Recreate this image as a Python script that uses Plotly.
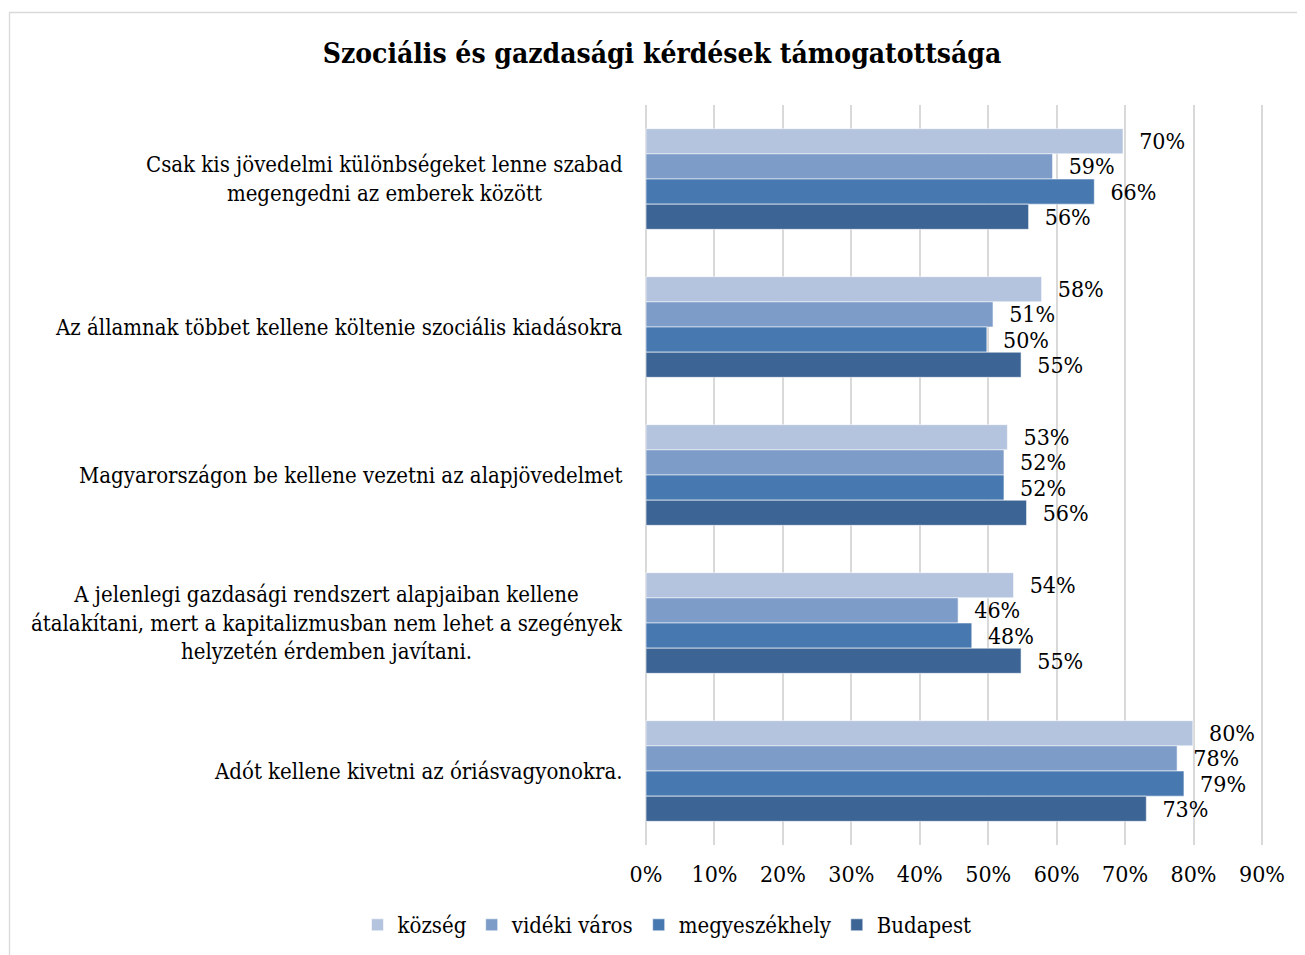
import plotly.graph_objects as go

categories = [
    "Csak kis jövedelmi különbségeket lenne szabad<br>megengedni az emberek között",
    "Az államnak többet kellene költenie szociális kiadásokra",
    "Magyarországon be kellene vezetni az alapjövedelmet",
    "A jelenlegi gazdasági rendszert alapjaiban kellene<br>átalakítani, mert a kapitalizmusban nem lehet a szegények<br>helyzetén érdemben javítani.",
    "Adót kellene kivetni az óriásvagyonokra.",
]
series_names = ["község", "vidéki város", "megyeszékhely", "Budapest"]
kozseg = [0.697, 0.578, 0.528, 0.537, 0.799]
videki_varos = [0.594, 0.507, 0.523, 0.456, 0.776]
megyeszekhely = [0.655, 0.498, 0.523, 0.476, 0.786]
budapest = [0.559, 0.548, 0.556, 0.548, 0.731]
series_values = [kozseg, videki_varos, megyeszekhely, budapest]
colors = ["#B5C4DE", "#7E9CC8", "#4878B0", "#3C6494"]
x_ticks = [0, 0.1, 0.2, 0.3, 0.4, 0.5, 0.6, 0.7, 0.8, 0.9]

FONT = "DejaVu Serif Condensed, DejaVu Serif, serif"
cat_ids = list(range(len(categories)))

fig = go.Figure()
for name, vals, col in zip(series_names, series_values, colors):
    fig.add_trace(go.Bar(
        y=cat_ids, x=vals, name=name, orientation="h",
        marker=dict(color=col, line=dict(color="rgba(255,255,255,0.55)", width=1)),
        text=vals, texttemplate="\u00a0\u00a0%{x:.0%}", textposition="outside",
        textfont=dict(family=FONT, size=23, color="#000000"),
        constraintext="none", cliponaxis=False,
    ))

# page body has an 8px margin, so figure coords = screen coords - 8
OFF = 8
W, H = 1305 - OFF, 955 - OFF
ml = 645 - OFF
plot_right = 1263 - OFF
mt = 105 - OFF
plot_bottom = 845 - OFF
mr = W - plot_right
mb = H - plot_bottom
pw, ph = plot_right - ml, plot_bottom - mt

annotations = []
for i, c in enumerate(categories):
    annotations.append(dict(
        x=0, xref="paper", xanchor="right", xshift=-20,
        y=i, yref="y", yanchor="middle",
        text=c, showarrow=False, align="center",
        font=dict(family=FONT, size=22, color="#000000"),
    ))

def px_x(p):
    return (p - OFF - ml) / pw

def px_y(p):
    return (plot_bottom - (p - OFF)) / ph

shapes = [dict(type="rect", xref="paper", yref="paper",
               x0=px_x(9.5), x1=px_x(1340), y0=px_y(1000), y1=px_y(12.5),
               line=dict(color="#D9D9D9", width=1.3), fillcolor="rgba(0,0,0,0)", layer="below")]

fig.update_layout(
    width=W, height=H,
    margin=dict(l=ml, r=mr, t=mt, b=mb),
    paper_bgcolor="white", plot_bgcolor="white",
    barmode="group", bargap=0.32, bargroupgap=0,
    title=dict(text="<b>Szociális és gazdasági kérdések támogatottsága</b>",
               x=(662 - OFF) / W, xanchor="center", y=1 - (53 - OFF) / H, yanchor="middle",
               font=dict(family=FONT, size=28, color="#000000")),
    xaxis=dict(range=[-0.0015, 0.9015], tickvals=x_ticks, tickformat=".0%",
               showgrid=True, gridcolor="#D9D9D9", gridwidth=2,
               zeroline=False, showline=False, ticks="",
               tickfont=dict(family=FONT, size=23, color="#000000"),
               ticklabelstandoff=13, fixedrange=True),
    yaxis=dict(tickvals=cat_ids, showticklabels=False, autorange="reversed",
               showgrid=False, zeroline=False, showline=False, ticks=""),
    legend=dict(orientation="h", x=(667 - OFF) / W, xanchor="center", xref="container",
                y=1 - (925 - OFF) / H, yref="container", yanchor="middle",
                font=dict(family=FONT, size=22, color="#000000"),
                itemwidth=30, tracegroupgap=0, traceorder="normal"),
    annotations=annotations,
    shapes=shapes,
    showlegend=True,
)

fig.write_html("out.html")
